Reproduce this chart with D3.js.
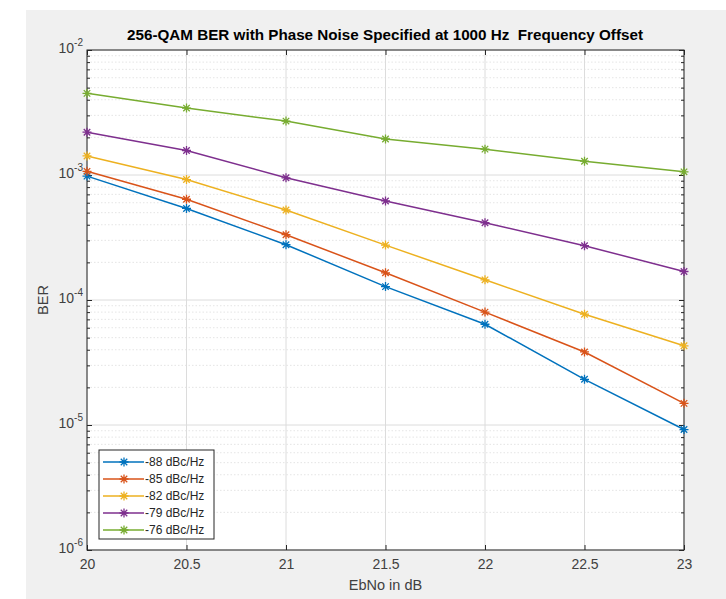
<!DOCTYPE html>
<html>
<head>
<meta charset="utf-8">
<script src="https://cdn.jsdelivr.net/npm/d3@7"></script>
<style>
  body { margin: 0; background: #fff; }
  text { font-family: "Liberation Sans", Arial, sans-serif; }
</style>
</head>
<body>
<div id="chart"></div>
<script>
// Chart data
var ebno = [20, 20.5, 21, 21.5, 22, 22.5, 23];
var seriesNames = ["-88 dBc/Hz", "-85 dBc/Hz", "-82 dBc/Hz", "-79 dBc/Hz", "-76 dBc/Hz"];
var ber88 = [9.8e-4, 5.4e-4, 2.77e-4, 1.28e-4, 6.4e-5, 2.32e-5, 9.2e-6];
var ber85 = [1.07e-3, 6.4e-4, 3.33e-4, 1.65e-4, 8.0e-5, 3.84e-5, 1.49e-5];
var ber82 = [1.42e-3, 9.2e-4, 5.25e-4, 2.75e-4, 1.45e-4, 7.7e-5, 4.3e-5];
var ber79 = [2.2e-3, 1.57e-3, 9.5e-4, 6.2e-4, 4.15e-4, 2.72e-4, 1.69e-4];
var ber76 = [4.5e-3, 3.43e-3, 2.7e-3, 1.94e-3, 1.61e-3, 1.29e-3, 1.06e-3];
var xTicks = [20, 20.5, 21, 21.5, 22, 22.5, 23];
var yTicks = [1e-6, 1e-5, 1e-4, 1e-3, 1e-2];

var colors = ["#0072BD", "#D95319", "#EDB120", "#7E2F8E", "#77AC30"];
var allSeries = [ber88, ber85, ber82, ber79, ber76];

var svgWidth = 726;
var svgHeight = 599;
var margin = { top: 50, right: 42, bottom: 49, left: 87 };
var width = svgWidth - margin.left - margin.right;
var height = svgHeight - margin.top - margin.bottom;

var svg = d3.select("#chart").append("svg")
  .attr("width", svgWidth)
  .attr("height", svgHeight);

// figure background
svg.append("rect")
  .attr("x", 26).attr("y", 10)
  .attr("width", svgWidth - 26).attr("height", svgHeight - 10)
  .attr("fill", "#f0f0f0");

var chartGroup = svg.append("g")
  .attr("transform", `translate(${margin.left}, ${margin.top})`);

var xScale = d3.scaleLinear().domain([20, 23]).range([0, width]);
var yScale = d3.scaleLog().domain([1e-6, 1e-2]).range([height, 0]);

chartGroup.append("rect")
  .attr("width", width).attr("height", height)
  .attr("fill", "#fff");

// minor ticks on the log axis
var minorTicks = [];
yTicks.slice(0, -1).forEach(function(d) {
  for (var k = 2; k <= 9; k++) minorTicks.push(d * k);
});

// minor grid
chartGroup.selectAll(".minor-grid")
  .data(minorTicks)
  .enter().append("line")
  .attr("x1", 0).attr("x2", width)
  .attr("y1", d => yScale(d)).attr("y2", d => yScale(d))
  .attr("stroke", "#dedede")
  .attr("stroke-dasharray", "1.5,2")
  .attr("stroke-width", 0.8);

// major grid
chartGroup.selectAll(".ygrid")
  .data(yTicks)
  .enter().append("line")
  .attr("x1", 0).attr("x2", width)
  .attr("y1", d => yScale(d)).attr("y2", d => yScale(d))
  .attr("stroke", "#dcdcdc").attr("stroke-width", 1);

chartGroup.selectAll(".xgrid")
  .data(xTicks)
  .enter().append("line")
  .attr("x1", d => xScale(d)).attr("x2", d => xScale(d))
  .attr("y1", 0).attr("y2", height)
  .attr("stroke", "#dcdcdc").attr("stroke-width", 1);

// axes (ticks pointing inward, box on)
var axisColor = "#262626";
function styleAxis(g) {
  g.select(".domain").remove();
  g.selectAll(".tick line").attr("stroke", axisColor);
}

var bottomAxis = d3.axisBottom(xScale).tickValues(xTicks).tickSize(-5).tickFormat(d3.format("~g"));
var xAxis = chartGroup.append("g")
  .attr("transform", `translate(0, ${height})`)
  .call(bottomAxis)
  .call(styleAxis);
xAxis.selectAll("text")
  .attr("y", 9)
  .attr("font-size", "14px")
  .attr("fill", "#404040");

chartGroup.append("g")
  .call(d3.axisTop(xScale).tickValues(xTicks).tickSize(-5).tickFormat(""))
  .call(styleAxis);

var leftAxis = d3.axisLeft(yScale).tickValues(yTicks).tickSize(-5).tickFormat("");
chartGroup.append("g").call(leftAxis).call(styleAxis);
chartGroup.append("g")
  .call(d3.axisLeft(yScale).tickValues(minorTicks).tickSize(-3).tickFormat(""))
  .call(styleAxis);
chartGroup.append("g")
  .attr("transform", `translate(${width}, 0)`)
  .call(d3.axisRight(yScale).tickValues(yTicks).tickSize(-5).tickFormat(""))
  .call(styleAxis);
chartGroup.append("g")
  .attr("transform", `translate(${width}, 0)`)
  .call(d3.axisRight(yScale).tickValues(minorTicks).tickSize(-3).tickFormat(""))
  .call(styleAxis);

// y tick labels 10^n
var yLabels = chartGroup.selectAll(".ylabel")
  .data(yTicks)
  .enter().append("text")
  .attr("x", -4)
  .attr("y", d => yScale(d) + 3)
  .attr("text-anchor", "end")
  .attr("fill", "#404040")
  .attr("font-size", "14px");
yLabels.append("tspan").text("10");
yLabels.append("tspan")
  .attr("dy", -7)
  .attr("font-size", "10px")
  .text(d => Math.round(Math.log10(d)));

// box
chartGroup.append("rect")
  .attr("width", width).attr("height", height)
  .attr("fill", "none")
  .attr("stroke", axisColor).attr("stroke-width", 1);

// lines
var line = d3.line()
  .x((d, i) => xScale(ebno[i]))
  .y(d => yScale(d));

function asterisk(x, y, r) {
  var a = r * 0.72;
  return `M${x - r},${y}L${x + r},${y}M${x},${y - r}L${x},${y + r}` +
    `M${x - a},${y - a}L${x + a},${y + a}M${x - a},${y + a}L${x + a},${y - a}`;
}

allSeries.forEach(function(vals, s) {
  chartGroup.append("path")
    .datum(vals)
    .attr("d", line)
    .attr("fill", "none")
    .attr("stroke", colors[s])
    .attr("stroke-width", 1.5);
  chartGroup.selectAll(".m" + s)
    .data(vals)
    .enter().append("path")
    .attr("d", (d, i) => asterisk(xScale(ebno[i]), yScale(d), 4.5))
    .attr("stroke", colors[s])
    .attr("stroke-width", 1.3);
});

// legend
var legend = svg.append("g").attr("transform", "translate(99, 450)");
legend.append("rect")
  .attr("width", 115).attr("height", 89)
  .attr("fill", "#fff")
  .attr("stroke", axisColor).attr("stroke-width", 1);
seriesNames.forEach(function(name, s) {
  var yy = 12 + s * 17;
  legend.append("line")
    .attr("x1", 4).attr("x2", 45)
    .attr("y1", yy).attr("y2", yy)
    .attr("stroke", colors[s]).attr("stroke-width", 1.5);
  legend.append("path")
    .attr("d", asterisk(25, yy, 4.5))
    .attr("stroke", colors[s]).attr("stroke-width", 1.3);
  legend.append("text")
    .attr("x", 46).attr("y", yy + 4)
    .attr("font-size", "12px")
    .attr("fill", "#262626")
    .text(name);
});

// title and axis labels
svg.append("text")
  .attr("x", 385)
  .attr("y", 40)
  .attr("text-anchor", "middle")
  .attr("font-size", "15px")
  .attr("font-weight", "bold")
  .attr("fill", "#000")
  .attr("textLength", 516)
  .attr("lengthAdjust", "spacingAndGlyphs")
  .text("256-QAM BER with Phase Noise Specified at 1000 Hz  Frequency Offset")
  .style("white-space", "pre");

svg.append("text")
  .attr("x", margin.left + width / 2)
  .attr("y", 590)
  .attr("text-anchor", "middle")
  .attr("font-size", "14.5px")
  .attr("fill", "#404040")
  .text("EbNo in dB");

svg.append("text")
  .attr("transform", "translate(48, 300) rotate(-90)")
  .attr("text-anchor", "middle")
  .attr("font-size", "14.5px")
  .attr("fill", "#404040")
  .text("BER");
</script>
</body>
</html>
